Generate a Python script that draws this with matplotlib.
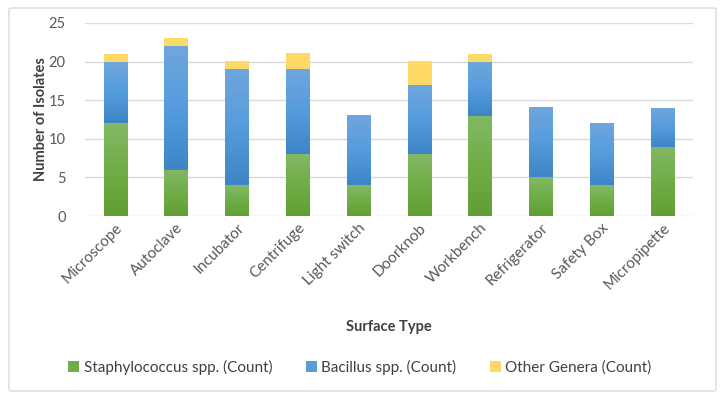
import numpy as np
import matplotlib.pyplot as plt
from matplotlib.colors import LinearSegmentedColormap
from matplotlib.patches import Patch, FancyBboxPatch

surfaces = ['Microscope', 'Autoclave', 'Incubator', 'Centrifuge', 'Light switch',
            'Doorknob', 'Workbench', 'Refrigerator', 'Safety Box', 'Micropipette']
staph = [12, 6, 4, 8, 4, 8, 13, 5, 4, 9]
bacillus = [8, 16, 15, 11, 9, 9, 7, 9, 8, 5]
other = [1, 1, 1, 2, 0, 3, 1, 0, 0, 0]

series = [
    ("Staphylococcus spp. (Count)", staph, ["#619f33", "#70ad47", "#83b866"], "#70ad47"),
    ("Bacillus spp. (Count)", bacillus, ["#3e85c7", "#559cdd", "#70a6dc"], "#5b9bd5"),
    ("Other Genera (Count)", other, ["#ffd966", "#ffd966", "#ffd966"], "#ffd966"),
]

plt.rcParams['font.family'] = ['Lato', 'DejaVu Sans']

fig = plt.figure(figsize=(7.2, 3.99), dpi=100)
ax = fig.add_axes([85 / 720, 1 - 216 / 399, (693 - 85) / 720, (216 - 23) / 399])

# outer chart border
fig.patches.append(FancyBboxPatch((9 / 720, 8 / 399), 707 / 720, 383 / 399,
                                  boxstyle="round,pad=0,rounding_size=0.004",
                                  transform=fig.transFigure, fill=False,
                                  edgecolor="#d9d9d9", linewidth=1.0))

x = np.arange(len(surfaces))
width = 0.39
bottom = np.zeros(len(surfaces))
grad = np.linspace(1, 0, 64).reshape(-1, 1)

for label, vals, cols, solid in series:
    cmap = LinearSegmentedColormap.from_list(label, cols)
    vals = np.array(vals, dtype=float)
    for i in range(len(surfaces)):
        if vals[i] <= 0:
            continue
        ax.imshow(grad, cmap=cmap, aspect='auto', zorder=3,
                  extent=[x[i] - width / 2, x[i] + width / 2, bottom[i], bottom[i] + vals[i]],
                  interpolation='bilinear', vmin=0, vmax=1)
    bottom += vals

ax.set_xlim(-0.5, len(surfaces) - 0.5)
ax.set_ylim(0, 25)
ax.set_yticks(np.arange(0, 26, 5))
ax.grid(axis='y', color='#d9d9d9', linewidth=1.0, zorder=0)
ax.set_axisbelow(True)
for s in ax.spines.values():
    s.set_visible(False)
ax.tick_params(axis='both', length=0, colors='#595959', labelsize=10.5)
ax.tick_params(axis='y', pad=14)
ax.set_xticks(x)
ax.set_xticklabels(surfaces, rotation=45, ha='right', rotation_mode='anchor', fontsize=11)

ax.set_ylabel("Number of Isolates", fontsize=10.5, fontweight='bold', color='#404040')
ax.yaxis.set_label_coords(-(85 - 48) / 608, 0.5)
ax.set_xlabel("Surface Type", fontsize=10.5, fontweight='bold', color='#404040')
ax.xaxis.set_label_coords(0.5, -(320 - 216) / 193)

handles = [Patch(facecolor=s[3], label=s[0]) for s in series]
fig.legend(handles=handles, loc='center', bbox_to_anchor=(0.5, 1 - 367 / 399), ncol=3,
           frameon=False, fontsize=11, labelcolor='#404040', handlelength=0.7,
           handleheight=0.7, handletextpad=0.3, columnspacing=2.2)

fig.savefig("out.png", dpi=100)
